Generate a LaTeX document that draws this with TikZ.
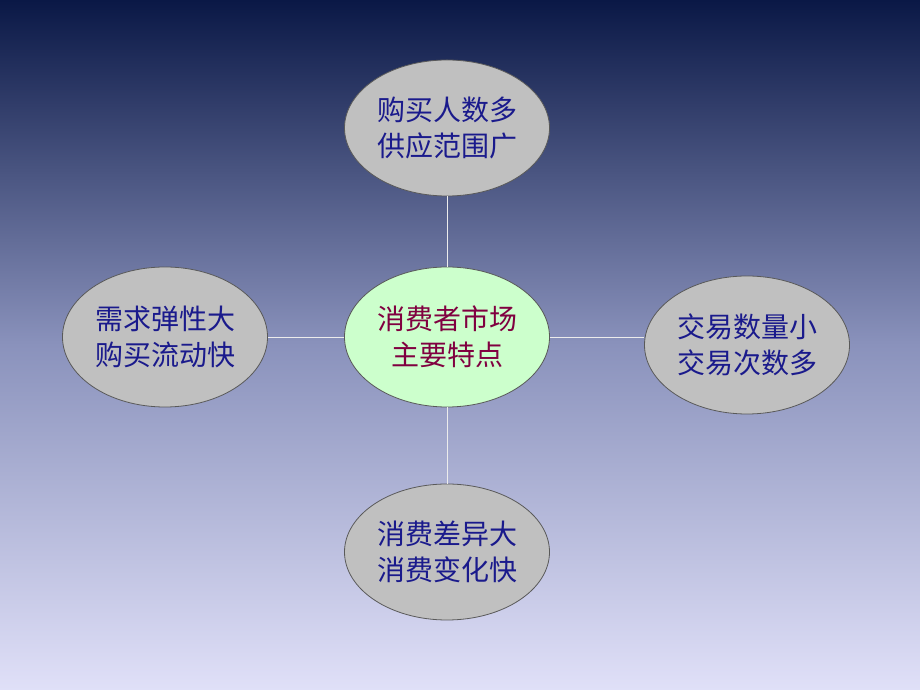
\documentclass[tikz,border=0pt]{standalone}
\usepackage{fontspec}
\newfontfamily\cjk{Noto Sans CJK SC}
\usetikzlibrary{shapes.geometric}
\definecolor{bgtop}{HTML}{0A1846}
\definecolor{bgmid}{HTML}{8A92BC}
\definecolor{bgbot}{HTML}{E0E0F8}
\definecolor{txtblue}{HTML}{1A1A8C}
\definecolor{txtred}{HTML}{800040}
\definecolor{ovgrey}{HTML}{C0C0C0}
\definecolor{ovgreen}{HTML}{CCFFCC}
\tikzset{
  ov/.style={ellipse, draw=gray!70!black, line width=0.8pt, fill=ovgrey, minimum width=205pt, minimum height=136pt, inner sep=0pt, align=center, font=\cjk\fontsize{28pt}{36pt}\selectfont, text=txtblue},
  ovc/.style={ov, fill=ovgreen, text=txtred},
  link/.style={draw=white!85!gray, line width=0.8pt}
}
\begin{document}
\begin{tikzpicture}[x=1pt,y=1pt]
\useasboundingbox (0,0) rectangle (920,690);
\shade[top color=bgtop, bottom color=bgmid] (0,690) rectangle (920,345);
\shade[top color=bgmid, bottom color=bgbot] (0,345) rectangle (920,0);
\node[ovc, minimum height=140pt] (c) at (447,353) {消费者市场\\主要特点};
\node[ov] (t) at (447,562) {购买人数多\\供应范围广};
\node[ov, minimum height=140pt] (l) at (165,353) {需求弹性大\\购买流动快};
\node[ov, minimum height=138pt] (r) at (747,345) {交易数量小\\交易次数多};
\node[ov] (b) at (447,138) {消费差异大\\消费变化快};
\draw[link] (c) -- (t);
\draw[link] (c) -- (b);
\draw[link] (c) -- (l);
\draw[link] (c.east) -- (r.west |- c.east);
\end{tikzpicture}
\end{document}
